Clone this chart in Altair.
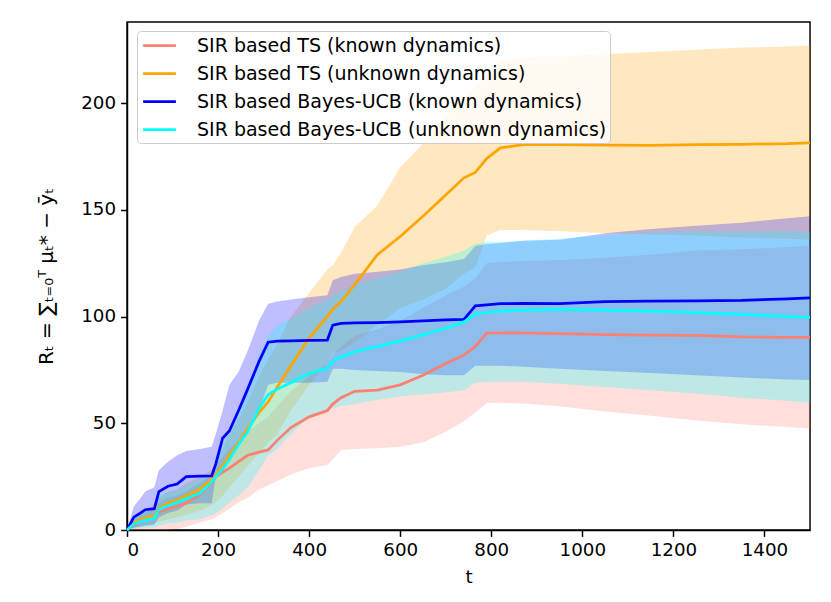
import altair as alt
import pandas as pd

T = [0, 15, 30, 40, 60, 70, 90, 110, 130, 160, 186, 195, 210, 225, 245, 265, 290, 310, 330, 360,
     400, 440, 452, 470, 500, 550, 600, 650, 700, 740, 765, 790, 820, 870, 950, 1050, 1150, 1250,
     1350, 1450, 1500]

names = ["SIR based TS (known dynamics)", "SIR based TS (unknown dynamics)",
         "SIR based Bayes-UCB (known dynamics)", "SIR based Bayes-UCB (unknown dynamics)"]
colors = ["#FA8072", "#FFA500", "#0000FF", "#00FFFF"]

ts_known_mean = [0, 2.5, 4, 5, 7, 8.5, 10, 11, 12.5, 16.5, 22, 25, 27, 29, 32, 35, 36.5, 37.5, 42, 48,
                 53, 56, 59, 62, 65, 65.5, 68, 72.5, 78, 82, 86, 92.2, 92.4, 92.3, 92, 91.5, 91.3, 91.2,
                 90.5, 90.3, 90.3]
ts_known_lo = [0, 0, 0, 0, 0, 0, 0, 0.5, 1.5, 3.5, 5, 6, 8, 10, 13, 15, 19, 21, 23, 26,
               29, 30.5, 33, 37.5, 38, 38.3, 39, 41, 46, 51, 55, 59.5, 59.5, 59.3, 58, 55.5, 53.5, 51.3,
               49.5, 48.2, 47.6]
ts_known_hi = [0, 4, 7, 8.5, 11, 13, 15, 16, 18, 22, 26, 30, 34, 38, 42, 46, 50, 53, 58, 65,
               72, 78, 82, 86, 91, 94, 98, 104, 110, 114, 118, 125, 125.5, 126, 126.5, 127.5, 129, 131,
               131.5, 132.5, 133]

ts_unknown_mean = [0, 3.5, 5, 5.5, 6.5, 10, 12.5, 14, 16, 19, 24, 26, 30, 35, 41, 47.5, 55, 60, 67, 77,
                   90, 100, 103.5, 107, 115, 129, 137.5, 147, 157, 165, 167.5, 174, 179, 180.5, 180.5,
                   180.3, 180.2, 180.5, 180.7, 181, 181.4]
ts_unknown_lo = [0, 1, 2, 2.5, 3, 4, 5, 6, 7, 9, 12, 13, 16, 20, 25, 30, 36, 41, 45, 56,
                 68, 78, 83, 84, 88, 96, 104, 108, 113, 120, 123, 138, 140.5, 140.5, 140, 139, 138.5, 138,
                 137, 136.5, 136]
ts_unknown_hi = [0, 6, 8, 8.5, 10, 15, 18, 19, 22, 25, 28, 32, 38, 45, 52, 60, 72, 80, 87, 100,
                 111, 122, 124, 130, 142, 152, 170, 181, 194, 202, 208, 214, 220, 221.5, 222, 223, 224, 225,
                 226, 226.5, 227]

ucb_known_mean = [0, 6, 8, 9.5, 10, 18, 20.5, 21.5, 25, 25.2, 25.3, 31, 43, 46.5, 56, 66, 79, 88, 88.5, 88.6,
                  88.8, 89, 96, 96.8, 97, 97.2, 97.5, 98, 98.4, 98.7, 105, 105.5, 106, 106.2, 106, 107,
                  107.2, 107.4, 107.6, 108.3, 108.8]
ucb_known_lo = [0, 1, 1.5, 2, 2.5, 6, 8, 9, 12, 12.5, 12.5, 25, 30, 34, 40, 46, 56, 68, 69, 69,
                69, 69.5, 75.5, 75.5, 75, 74.5, 74, 73, 72.5, 72.5, 77, 77, 77, 76.5, 75.5, 74.5, 73.5,
                72.5, 71.5, 70.5, 70.3]
ucb_known_hi = [0, 11, 15, 18, 20, 28, 32, 35, 37, 38, 39, 45, 56, 68, 74, 84, 98, 106, 107, 108,
                109, 110, 117, 118.5, 120, 121, 122, 124, 125.5, 127, 133, 134, 134.5, 135.5, 136, 139,
                141, 142.5, 144, 146, 147]

ucb_unknown_mean = [0, 3, 4, 4.5, 5.5, 9.5, 11.5, 13, 14.8, 17.2, 22.5, 25, 28.5, 33, 40, 46, 57, 63.5, 66, 69,
                    73.3, 75.7, 79, 81, 83.5, 86, 88.5, 91.5, 94.5, 97.5, 101, 102, 102.5, 103, 103.4, 103,
                    102.5, 101.8, 101, 100, 99.6]
ucb_unknown_lo = [0, 0.5, 1, 1, 1, 2, 3, 3.5, 4.5, 5, 7, 8, 10, 13, 16, 20, 28, 35, 38, 45,
                  53, 56.5, 57, 58, 59, 61, 62.5, 63.5, 64.5, 65.5, 69, 69.5, 69.5, 69.5, 68.5, 67, 65.5,
                  64, 62, 60.5, 59.6]
ucb_unknown_hi = [0, 6, 8, 9, 11, 16, 18, 19, 21, 24, 27, 32, 40, 47, 56, 66, 82, 91, 96, 99,
                  104, 108, 110, 112, 115, 118, 121, 125, 128, 131, 134, 135, 135, 135.5, 136.5, 138,
                  139.5, 140, 140, 140, 139.6]

series = [
    (names[0], ts_known_mean, ts_known_lo, ts_known_hi),
    (names[1], ts_unknown_mean, ts_unknown_lo, ts_unknown_hi),
    (names[2], ucb_known_mean, ucb_known_lo, ucb_known_hi),
    (names[3], ucb_unknown_mean, ucb_unknown_lo, ucb_unknown_hi),
]

rows = []
for name, m, lo, hi in series:
    for t, a, b, c in zip(T, m, lo, hi):
        rows.append({"series": name, "t": t, "mean": a, "lo": b, "hi": c})
df = pd.DataFrame(rows)

FS = 18.3
ytitle = "Rₜ = ∑ₜ₌₀ᵀ μₜ* − ȳₜ"

xscale = alt.Scale(domain=[0, 1500], nice=False)
yscale = alt.Scale(domain=[0, 238], nice=False, zero=True)
xaxis = alt.Axis(values=list(range(0, 1401, 200)), title="t", format="d")
yaxis = alt.Axis(values=[0, 50, 100, 150, 200], title=ytitle, format="d")

base = alt.Chart(df)

areas = []
for name, col in zip(names, colors):
    areas.append(
        base.transform_filter(alt.datum.series == name)
        .mark_area(opacity=0.25, color=col, interpolate="linear")
        .encode(
            x=alt.X("t:Q", scale=xscale, axis=xaxis),
            y=alt.Y("lo:Q", scale=yscale, axis=yaxis),
            y2="hi:Q",
        )
    )

lines = base.mark_line(strokeWidth=2.75).encode(
    x=alt.X("t:Q", scale=xscale, axis=xaxis),
    y=alt.Y("mean:Q", scale=yscale, axis=yaxis),
    color=alt.Color(
        "series:N",
        scale=alt.Scale(domain=names, range=colors),
        sort=names,
        legend=alt.Legend(
            title=None,
            orient="none",
            legendX=10,
            legendY=9,
            symbolType="M-1.64,0L1.64,0",
            symbolSize=400,
            symbolStrokeWidth=2.75,
            symbolOffset=8,
            labelFontSize=19,
            labelFont="DejaVu Sans",
            labelColor="black",
            labelOffset=26,
            fillColor="rgba(255,255,255,0.8)",
            strokeColor="#cccccc",
            cornerRadius=4,
            padding=3,
            rowPadding=6,
            labelLimit=0,
        ),
    ),
)

chart = (
    alt.layer(*areas, lines)
    .properties(
        width=683,
        height=508,
        padding={"left": 119, "top": 14, "right": 13, "bottom": 64},
        autosize=alt.AutoSizeParams(type="none"),
        background="white",
    )
    .configure(font="DejaVu Sans")
    .configure_view(stroke="black", strokeWidth=1.47)
    .configure_axis(
        grid=False,
        domainColor="black",
        domainWidth=1.47,
        tickColor="black",
        tickWidth=1.47,
        tickSize=6.4,
        labelFontSize=FS,
        labelFont="DejaVu Sans",
        labelColor="black",
        labelPadding=5,
        titleFontSize=FS,
        titleFont="DejaVu Sans",
        titleFontWeight="normal",
        titleColor="black",
    )
    .configure_axisX(titlePadding=10)
    .configure_axisY(titlePadding=24, titleFontSize=20)
)

chart.save("out.html", embed_options={"renderer": "svg", "actions": False})
